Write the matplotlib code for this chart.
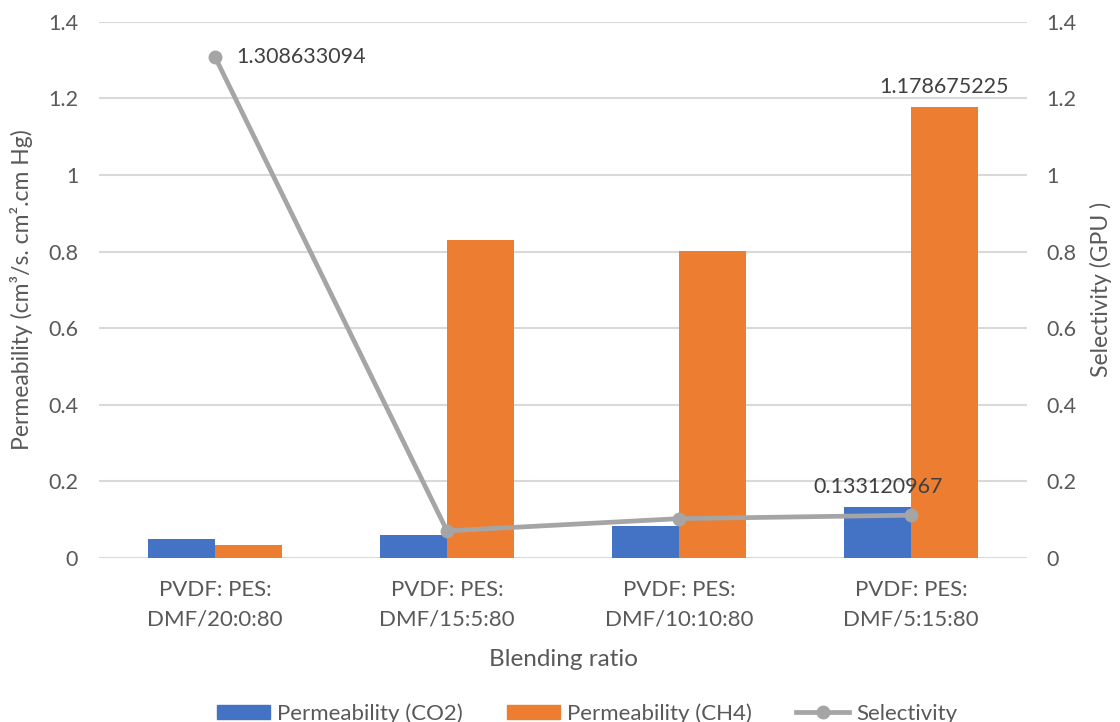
import matplotlib
matplotlib.use("Agg")
import matplotlib.pyplot as plt
import numpy as np
from matplotlib.patches import Patch
from matplotlib.lines import Line2D

plt.rcParams['font.family'] = ['Lato', 'DejaVu Sans']

categories = ["PVDF: PES:\nDMF/20:0:80", "PVDF: PES:\nDMF/15:5:80",
              "PVDF: PES:\nDMF/10:10:80", "PVDF: PES:\nDMF/5:15:80"]
perm_co2 = [0.048, 0.058, 0.083, 0.133120967]
perm_ch4 = [0.033, 0.830, 0.801, 1.178675225]
selectivity = [1.308633094, 0.070, 0.102, 0.111]
y_ticks = [0, 0.2, 0.4, 0.6, 0.8, 1, 1.2, 1.4]
y_tick_labels = ["0", "0.2", "0.4", "0.6", "0.8", "1", "1.2", "1.4"]

TEXT = "#595959"
BLUE = "#4472C4"
ORANGE = "#ED7D31"
GRAY = "#A5A5A5"
GRID = "#D9D9D9"
FS = 15.5

fig = plt.figure(figsize=(11.2, 7.22), dpi=100)
ax = fig.add_axes([0.0884, 0.2276, 0.8286, 0.742])
ax2 = ax.twinx()

x = np.arange(len(categories))
w = 0.287
ax.bar(x - w / 2, perm_co2, width=w, color=BLUE, zorder=3)
ax.bar(x + w / 2, perm_ch4, width=w, color=ORANGE, zorder=3)
ax2.plot(x, selectivity, color=GRAY, lw=3.4, marker="o", ms=9,
         solid_capstyle="round", zorder=4)

for a in (ax, ax2):
    a.set_ylim(0, 1.4)
    a.set_xlim(-0.5, len(categories) - 0.5)
    for s in a.spines.values():
        s.set_visible(False)
    a.set_yticks(y_ticks)
    a.set_yticklabels(y_tick_labels)
    a.tick_params(axis="y", length=0, labelsize=FS, labelcolor=TEXT)

ax.tick_params(axis="y", pad=15)
ax2.tick_params(axis="y", pad=14)
ax.yaxis.grid(True, color=GRID, lw=1.5, zorder=0)
ax.set_axisbelow(True)

ax.set_xticks(x)
ax.set_xticklabels(categories, fontsize=16, color=TEXT, linespacing=1.6)
ax.tick_params(axis="x", length=0, pad=16)

ax.set_xlabel("Blending ratio", fontsize=17.5, color=TEXT, va="center")
ax.xaxis.set_label_coords(0.5, -0.19)
ax.set_ylabel("Permeability (cm³/s. cm².cm Hg)", fontsize=16.5, color=TEXT, va="center")
ax.yaxis.set_label_coords(-0.083, 0.5)
ax2.set_ylabel("Selectivity (GPU )", fontsize=16.5, color=TEXT, va="center")
ax2.yaxis.set_label_coords(1.08, 0.5)

# value labels
ax2.annotate(f"{selectivity[0]:.9f}", (x[0], selectivity[0]), xytext=(15, 0),
             textcoords="offset points", va="center", ha="left",
             fontsize=FS, color="#404040")
ax.annotate(f"{perm_ch4[3]:.9f}", (x[3] + w / 2, perm_ch4[3]), xytext=(0, 7),
            textcoords="offset points", va="bottom", ha="center",
            fontsize=FS, color="#404040", zorder=5)
ax2.annotate(f"{perm_co2[3]:.9f}", (x[3] - w / 2, perm_co2[3]), xytext=(0, 7),
             textcoords="offset points", va="bottom", ha="center",
             fontsize=FS, color="#404040", zorder=6)

handles = [Patch(color=BLUE), Patch(color=ORANGE),
           Line2D([0], [0], color=GRAY, lw=3.4, marker="o", ms=9)]
labels = ["Permeability (CO2)", "Permeability (CH4)", "Selectivity"]
fig.legend(handles, labels, loc="center", bbox_to_anchor=(0.524, 0.012),
           ncol=3, frameon=False, fontsize=16, labelcolor=TEXT,
           handlelength=2.4, handleheight=0.6, handletextpad=0.3,
           columnspacing=2.0)

fig.savefig("out.png", dpi=100)
